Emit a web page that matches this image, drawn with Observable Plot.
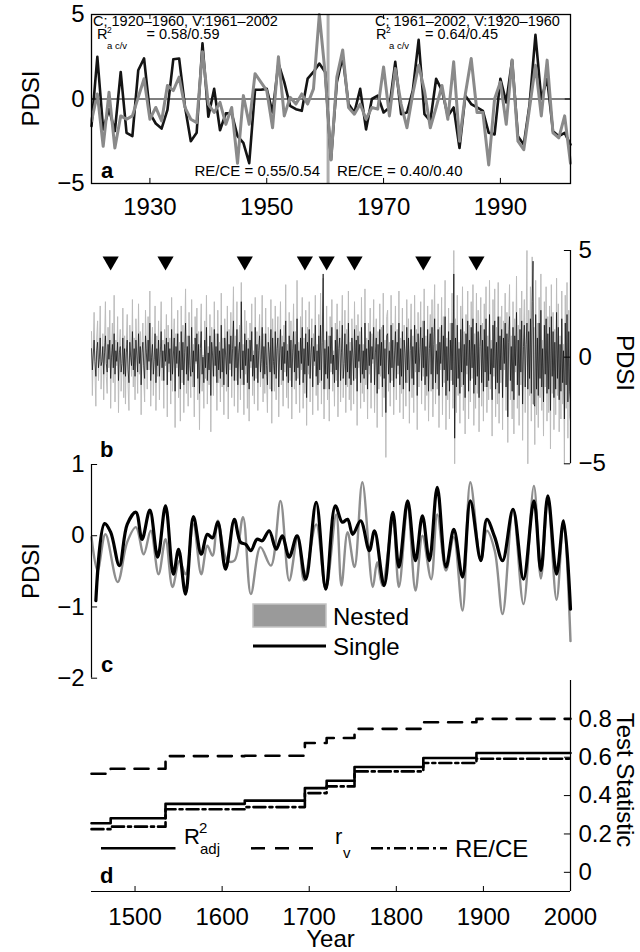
<!DOCTYPE html>
<html><head><meta charset="utf-8">
<script src="https://cdn.jsdelivr.net/npm/d3@7"></script>
<script src="https://cdn.jsdelivr.net/npm/@observablehq/plot@0.6"></script>
<style>
body{margin:0;background:#fff;}
#fig{position:relative;width:640px;height:952px;overflow:hidden;background:#fff;}
</style></head><body><div id="fig"></div>
<script>
const FONT = '"Liberation Sans", Arial, Helvetica, sans-serif';

// ---------- Panel a: 1920-2002 annual ----------
const aStartYear = 1920;
const aInstrumental = [
 -1.6, 2.5, -1.8, -0.6, -1.9, 1.6, -2.0, -2.2, 1.7, 2.4,
 -0.85, -1.45, -1.75, -0.65, 2.35, 2.4, -0.45, -2.5, -2.0, 3.3,
 -1.05, 0.6, -1.85, -0.85, -0.85, -2.2, -2.6, -3.8, 0.55, 0.55,
 0.6, -0.8, 2.1, 1.0, -0.4, -0.6, -0.7, 1.2, 1.6, 2.1,
 1.6, -3.6, 1.0, 2.5, -0.3, -0.8, 0.6, -1.8, 0.0, 0.2,
 -0.8, -0.5, 2.2, -0.9, -0.8, 0.5, 3.5, -0.9, -1.3, 1.2,
 0.5, -1.0, -0.5, -2.9, 0.2, -0.3, -0.5, -0.7, -2.0, -2.1,
 1.2, -0.2, 2.3, -2.2, -2.7, -0.3, 3.8, 0.0, 1.2, -1.9,
 -2.2, -2.0, -2.7];
const aReconstructed = [
 -1.3, 0.3, -2.8, 0.4, -2.9, -1.0, -1.2, -1.0, 0.1, 1.2,
 -1.2, -0.5, -1.3, 0.8, 0.5, 1.3, -0.5, -1.2, -1.4, 2.8,
 -0.3, -0.8, -0.2, -1.5, -0.5, -3.8, 0.2, -1.5, 1.5, 1.0,
 0.5, -1.7, 2.5, -1.0, 0.1, -0.3, 0.3, -0.3, 0.6, 5.0,
 1.5, -3.6, 1.3, 2.9, -0.5, -0.9, -0.3, -1.2, -0.5, -0.6,
 1.9, -1.0, 1.8, -0.3, -1.7, 0.3, 2.0, 0.5, -1.7, -0.5,
 0.8, -1.2, 2.2, -2.5, 0.3, 2.4, -0.8, -0.8, -3.9, 0.0,
 1.0, -1.5, 2.3, -2.5, -3.0, -0.5, 2.0, -1.0, 2.3, -2.0,
 -2.3, -1.0, -3.8];
const splitYear = 1960.5;
const aXTicks = [1930, 1950, 1970, 1990];
const aYTicks = [-5, 0, 5];

// ---------- Panel b: full record, annual 1450-2000 ----------
const bStartYear = 1450;
const bNested = [
 1.2,-1.8,0.4,2.1,-0.6,-2.3,0.9,1.7,-1.1,0.2,
 2.4,-1.5,-0.3,1.1,-2.0,0.7,2.6,-0.9,-1.7,1.4,
 -0.5,2.2,-2.4,0.3,1.6,-1.2,2.9,-2.1,0.8,-0.4,
 1.9,-2.6,0.5,1.3,-1.6,-0.7,2.3,-1.9,1.0,-2.2,
 0.6,2.0,-1.3,-2.5,1.5,0.1,-0.9,2.7,-1.4,0.9,
 -2.0,1.8,0.3,-1.7,2.5,-0.8,1.2,-2.7,0.6,1.6,
 -1.0,-2.1,2.2,0.4,-1.5,1.9,-0.6,3.1,-2.3,0.2,
 1.4,-1.8,-0.2,2.4,-2.5,1.0,-0.9,1.7,-2.0,0.5,
 2.6,-1.1,0.8,-2.4,1.3,-0.4,2.0,-2.8,1.5,-0.7,
 0.9,-2.2,2.8,-1.6,0.3,1.8,-3.3,1.1,-0.5,2.2,
 -1.9,0.7,-3.0,2.4,-1.2,1.5,-2.6,0.4,3.2,-1.7,
 1.0,-2.3,2.1,-0.8,-1.9,2.7,-1.4,0.6,-2.8,1.9,
 -0.3,2.3,-2.0,1.2,-3.4,0.8,2.5,-1.6,0.1,-2.4,
 1.7,-1.0,2.9,-2.2,0.5,-1.3,2.0,-3.5,1.4,0.3,
 -1.8,2.6,-0.9,1.1,-2.5,2.2,-1.2,0.7,-2.1,3.0,
 -1.4,0.9,-2.7,1.8,0.2,-1.6,2.4,-2.9,1.3,-0.6,
 2.1,-1.9,0.8,3.3,-2.3,1.0,-1.1,2.6,-2.6,0.4,
 1.5,-2.0,3.5,-1.3,0.6,-2.7,2.2,-0.8,1.7,-2.4,
 0.9,-3.0,1.6,-0.5,2.5,-1.8,0.3,-2.2,2.8,-1.0,
 1.2,-2.5,0.7,2.0,-1.4,-0.3,2.9,-2.1,1.1,-1.7,
 2.3,-0.9,-2.6,1.4,0.5,-1.5,2.7,-3.1,1.8,-0.4,
 -1.6,2.4,-2.0,0.8,1.9,-2.8,0.2,2.6,-1.3,1.0,
 -2.3,1.5,-0.7,3.4,-1.9,0.6,-2.4,2.1,-1.1,1.7,
 -2.9,0.4,2.5,-1.5,1.2,-2.2,3.6,-1.0,0.7,-2.6,
 1.9,-0.6,2.8,-2.4,0.9,-1.7,2.2,-3.2,1.4,-0.8,
 2.6,-2.1,0.5,1.8,-2.7,1.1,-0.4,2.9,-1.8,0.6,
 -2.5,2.0,-1.2,3.0,-2.2,1.4,3.7,-2.9,0.8,-1.5,
 2.4,-2.0,1.0,-3.0,1.9,-0.7,2.7,-1.6,0.3,-2.3,
 1.6,-1.1,2.5,-2.8,0.9,1.7,-2.1,0.4,2.9,-1.9,
 -0.6,2.2,-2.6,1.3,-1.4,3.1,-2.0,0.7,-2.5,1.8,
 0.2,-2.2,2.6,-1.0,1.5,-3.2,2.0,-0.5,1.2,-2.4,
 2.8,-1.7,0.6,-2.1,3.2,-1.3,0.9,-2.9,1.6,-0.8,
 2.3,-2.4,1.1,-0.3,2.7,-2.6,0.5,1.8,-3.3,1.2,
 -1.5,2.5,-0.9,1.4,-2.8,3.0,-1.9,0.8,-4.7,1.9,
 2.2,-1.6,0.7,-2.3,2.9,-1.1,1.6,-2.7,0.3,2.4,
 -2.0,1.3,-0.8,3.1,-2.6,0.9,-1.7,2.3,-2.9,1.5,
 0.4,-2.3,2.7,-1.2,1.8,-3.1,0.6,2.5,-1.9,1.0,
 -2.6,2.9,-0.7,1.3,-3.4,2.1,-1.4,0.5,2.6,-2.2,
 1.7,-0.9,3.2,-2.5,1.0,-1.8,2.4,-3.0,0.8,2.0,
 -1.6,2.7,-2.8,1.2,3.4,-2.2,0.6,-1.5,2.5,-3.3,
 1.4,-0.6,2.8,-2.7,1.9,-1.2,3.6,-3.4,0.9,-2.0,
 2.3,-2.9,1.6,-1.1,3.0,-2.4,5.0,-5.0,1.8,-2.6,
 2.9,-1.8,0.7,-3.1,2.4,-1.4,3.3,-2.5,1.2,-3.6,
 2.0,-0.8,3.1,-2.9,1.5,-2.1,2.6,-1.0,3.4,-3.2,
 1.1,-2.4,3.0,-1.7,2.2,-3.5,0.9,2.8,-2.3,1.6,
 -3.0,2.5,-1.4,3.3,-2.6,1.0,-2.0,3.6,-1.5,0.8,
 -3.7,2.7,-0.9,3.2,-2.8,1.4,-2.2,3.5,-3.1,1.9,
 -1.2,2.4,-3.4,1.7,-0.6,3.0,-2.5,2.1,-4.0,1.3,
 3.4,-2.0,1.0,-2.9,2.6,-3.6,1.8,-0.7,3.8,-2.4,
 1.5,-3.2,2.3,-1.3,3.1,-3.9,0.9,2.7,-2.6,1.2,
 5.0,-5.0,2.2,-1.8,3.3,-3.0,4.7,-2.2,1.4,-4.1,
 3.6,-2.7,1.6,-3.3,2.8,-1.9,3.9,-2.5,0.8,-3.7,
 2.6,-1.4,3.3,-3.0,1.9,-2.6,2.4,-4.3,3.4,-1.7,
 2.1,-3.4,1.3,-2.7,3.7,-1.8,2.5,-3.5,1.0,-2.9,
 3.1,-2.2,0.6,-5.0,2.9,-2.4,3.5,-3.8,2.2,-2.8,
 -3.0];
const bSingle = [
 0.4,-0.6,0.1,0.8,-0.2,-0.9,0.3,0.7,-0.5,-0.1,
 0.9,-0.4,-0.2,0.5,-0.8,0.2,1.0,-0.3,-0.7,0.6,
 -0.1,0.8,-1.0,0.0,0.6,-0.5,1.1,-0.8,0.3,-0.2,
 0.7,-1.1,0.2,0.5,-0.7,-0.3,0.9,-0.8,0.4,-0.9,
 0.2,0.8,-0.6,-1.2,0.7,0.0,-0.4,1.2,-0.6,0.4,
 -0.9,0.8,0.1,-0.7,1.1,-0.3,0.5,-1.3,0.2,0.7,
 -0.4,-1.0,1.0,0.2,-0.6,0.8,-0.2,1.6,-1.1,0.0,
 0.6,-0.8,-0.1,1.1,-1.2,0.4,-0.4,0.8,-0.9,0.2,
 1.2,-0.5,0.3,-1.1,0.6,-0.2,0.9,-1.3,0.7,-0.3,
 0.4,-1.1,1.3,-0.8,0.1,0.9,-1.6,0.5,-0.3,1.1,
 -0.9,0.3,-1.5,1.2,-0.6,0.7,-1.3,0.2,1.6,-0.8,
 0.5,-1.1,1.0,-0.4,-0.9,1.4,-0.7,0.3,-1.4,0.9,
 -0.2,1.1,-1.0,0.6,-1.7,0.4,1.2,-0.8,0.0,-1.2,
 0.8,-0.5,1.4,-1.1,0.2,-0.6,1.0,-1.8,0.7,0.1,
 -0.9,1.3,-0.4,0.5,-1.2,1.1,-0.6,0.3,-1.0,1.5,
 -0.7,0.4,-1.3,0.9,0.1,-0.8,1.2,-1.4,0.6,-0.3,
 1.0,-0.9,0.4,1.7,-1.1,0.5,-0.5,1.3,-1.3,0.2,
 0.7,-1.0,2.6,-0.6,0.3,-1.3,1.1,-0.4,0.8,-1.2,
 0.4,-1.5,0.8,-0.2,1.2,-0.9,0.1,-1.1,1.4,-0.5,
 0.6,-1.2,0.3,1.0,-0.7,-0.1,1.4,-1.0,0.5,-0.8,
 1.1,-0.4,-1.3,0.7,0.2,-0.7,1.3,-1.6,0.9,-0.2,
 -0.8,1.2,-1.0,0.4,0.9,-1.4,0.1,1.3,-0.6,0.5,
 -1.1,0.7,-0.3,1.7,-0.9,0.3,-1.2,1.0,-0.5,0.8,
 -1.4,0.2,1.2,-0.7,0.6,-1.1,1.8,-0.5,0.3,-1.3,
 0.9,-0.3,1.4,-1.2,0.4,-0.8,1.1,-1.9,0.7,-0.4,
 1.3,-1.0,0.2,0.9,-1.4,0.5,-0.2,1.5,-0.9,0.3,
 -1.3,1.0,-0.6,1.5,-1.1,0.7,3.9,-1.5,0.4,-0.8,
 1.2,-1.0,0.5,-1.5,1.0,-0.3,1.4,-0.8,0.1,-1.2,
 0.8,-0.6,1.3,-1.4,0.4,0.9,-1.1,0.2,1.5,-1.0,
 -0.3,1.1,-1.3,0.6,-0.7,1.6,-1.0,0.3,-1.3,0.9,
 0.1,-1.1,1.3,-0.5,0.8,-1.6,1.0,-0.2,0.6,-1.2,
 1.4,-0.8,0.3,-1.0,1.6,-0.6,0.4,-1.5,0.8,-0.4,
 1.2,-1.2,0.5,-0.1,1.4,-1.3,0.2,0.9,-1.7,0.6,
 -0.8,1.3,-0.4,0.7,-1.4,1.5,-1.0,0.4,-2.6,1.0,
 1.1,-0.8,0.3,-1.2,1.5,-0.5,0.8,-1.4,0.1,1.2,
 -1.0,0.7,-0.4,1.6,-1.3,0.4,-0.9,1.2,-1.5,0.8,
 0.2,-1.2,1.4,-0.6,0.9,-1.6,0.3,1.3,-1.0,0.5,
 -1.3,1.5,-0.3,0.7,-1.8,1.1,-0.7,0.2,1.4,-1.1,
 0.9,-0.5,1.7,-1.3,0.5,-0.9,1.3,-1.6,0.4,1.1,
 -0.8,1.4,-1.5,0.6,1.8,-1.2,0.3,-0.8,1.3,-1.8,
 0.7,-0.3,1.5,-1.4,1.0,-0.6,1.9,-1.8,0.5,-1.1,
 1.2,-1.6,0.8,-0.6,1.6,-1.3,3.9,-3.8,0.9,-1.4,
 1.5,-1.0,0.4,-1.7,1.3,-0.7,1.8,-1.3,0.6,-1.9,
 1.1,-0.4,1.7,-1.6,0.8,-1.1,1.4,-0.5,1.8,-1.7,
 0.6,-1.3,1.6,-0.9,1.2,-1.9,0.5,1.5,-1.2,0.8,
 -1.6,1.3,-0.7,1.8,-1.4,0.5,-1.1,2.0,-0.8,0.4,
 -2.0,1.5,-0.5,1.7,-1.5,0.7,-1.2,1.9,-1.7,1.0,
 -0.6,1.3,-1.9,0.9,-0.3,1.6,-1.4,1.1,-2.8,0.7,
 1.9,-1.1,0.5,-1.6,1.4,-2.0,1.0,-0.4,2.1,-1.3,
 0.8,-1.8,1.3,-0.7,1.7,-2.2,0.5,1.5,-1.4,0.6,
 1.6,-1.5,1.2,-1.0,1.8,-1.7,2.6,4.5,-2.2,-2.3,
 2.0,-1.5,0.9,-1.8,1.6,-1.0,2.2,-1.4,0.4,-2.1,
 1.5,-0.8,1.8,-1.7,1.1,-1.5,1.4,-2.5,1.9,-0.9,
 1.2,-1.9,0.7,-1.5,2.1,-1.0,1.4,-2.0,0.6,-1.6,
 1.8,-1.2,0.3,-2.9,1.6,-1.3,2.0,-2.1,1.2,-1.6,
 -2.0];
const nestStartYears = [1472, 1535, 1626, 1695, 1720, 1752, 1831, 1892];
const bYTicks = [-5, 0, 5];

// ---------- Panel c: smoothed ----------
const cSingleYears = [1455,1465,1472,1482,1491,1501,1508,1517,1526,1535,1544,1550,1558,1567,1576,1583,1589,1595,1604,1614,1621,1627,1633,1640,1646,1654,1662,1669,1677,1686,1696,1708,1719,1730,1738,1744,1750,1759,1769,1775,1786,1796,1803,1813,1822,1830,1838,1847,1857,1866,1876,1885,1897,1904,1913,1922,1934,1946,1958,1966,1974,1984,1992,2000];
const cSingle = [-0.91,0.17,0.05,-0.42,0.16,0.33,-0.05,0.36,-0.30,0.42,-0.54,-0.19,-0.82,0.27,-0.26,0.02,-0.03,0.19,-0.47,0.23,-0.09,-0.12,-0.21,-0.05,-0.07,0.07,-0.19,0.0,-0.30,0.0,-0.61,0.47,-0.75,0.42,0.19,0.23,0.02,0.21,-0.21,0.07,-0.70,0.33,-0.44,0.49,-0.35,0.28,-0.35,0.68,-0.44,0.09,-0.58,0.49,-0.35,0.23,-0.02,-0.35,0.37,-0.61,0.49,-0.49,0.56,-0.54,0.21,-1.03];
const cNestedYears = [1450,1457,1466,1480,1491,1501,1510,1518,1527,1535,1543,1551,1558,1567,1576,1583,1589,1595,1606,1614,1624,1633,1644,1656,1667,1677,1687,1694,1708,1719,1731,1737,1744,1752,1761,1773,1778,1784,1796,1803,1813,1822,1830,1840,1847,1857,1866,1876,1885,1897,1904,1913,1922,1934,1946,1958,1966,1974,1984,1992,2000];
const cNested = [-0.02,-0.49,0.02,-0.65,-0.09,0.12,-0.26,0.07,-0.54,-0.05,-0.72,-0.35,-0.54,0.16,-0.54,-0.14,-0.28,0.21,-0.35,-0.35,0.26,-0.82,-0.16,-0.42,0.49,-0.63,0.0,-0.63,0.16,-0.75,0.30,-0.70,0.05,-0.44,0.75,-0.72,-0.37,-0.70,0.19,-0.72,0.40,-0.77,0.0,-0.61,0.30,-0.49,-0.02,-1.05,0.75,-0.35,0.07,-0.21,-1.10,0.37,-0.96,0.70,-0.60,0.50,-0.90,0.21,-1.48];
const cYTicks = [-2, -1, 0, 1];

// ---------- Panel d: test statistics by nest ----------
const dStepYears = [1450, 1472, 1535, 1626, 1695, 1720, 1752, 1831, 1892];
const dEndYear = 2000;
const dR2adj = [0.256, 0.282, 0.357, 0.374, 0.439, 0.477, 0.549, 0.596, 0.622];
const dRv    = [0.514, 0.540, 0.606, 0.608, 0.674, 0.700, 0.748, 0.782, 0.800];
const dRECE  = [0.225, 0.238, 0.329, 0.340, 0.413, 0.448, 0.526, 0.570, 0.592];
const dXTicks = [1500, 1600, 1700, 1800, 1900, 2000];
const dYTicks = [0, 0.2, 0.4, 0.6, 0.8];

// ---------- helpers ----------
const fig = document.getElementById("fig");
const baseStyle = {fontFamily: FONT, fontSize: "24px", background: "transparent", overflow: "visible", color: "#000"};
function place(svg, top) {
  svg.style.position = "absolute"; svg.style.left = "0px"; svg.style.top = top + "px";
  svg.style.maxWidth = "none";
  fig.appendChild(svg); return svg;
}
function txt(svg, x, y, s, o = {}) {
  const t = d3.select(svg).append("text").attr("x", x).attr("y", y)
    .attr("font-family", FONT).attr("font-size", o.size || 24)
    .attr("fill", o.fill || "#000").attr("text-anchor", o.anchor || "start").text(s);
  if (o.weight) t.attr("font-weight", o.weight);
  if (o.baseline) t.attr("dominant-baseline", o.baseline);
  if (o.rotate) t.attr("transform", `rotate(${o.rotate},${x},${y})`);
  return t;
}
function line(svg, x1, x2, y, o = {}) {
  d3.select(svg).append("line").attr("x1", x1).attr("x2", x2).attr("y1", y).attr("y2", y)
    .attr("stroke", o.stroke || "#000").attr("stroke-width", o.width || 2.5)
    .attr("stroke-dasharray", o.dash || null);
}
const minus = d => d < 0 ? "\u2212" + Math.abs(d) : String(d);
const triDown = {draw(ctx, size) {
  const y = Math.sqrt(size / (3 * Math.sqrt(3)));
  ctx.moveTo(0, 2 * y); ctx.lineTo(-Math.sqrt(3) * y, -y); ctx.lineTo(Math.sqrt(3) * y, -y); ctx.closePath();
}};

// ---------- Panel a ----------
const tA = aInstrumental.map((v, i) => ({year: aStartYear + i, instr: v, recon: aReconstructed[i]}));
const aLastYear = aStartYear + aInstrumental.length - 1;
const svgA = place(Plot.plot({
  width: 640, height: 230, marginTop: 14, marginBottom: 47, marginLeft: 91, marginRight: 70,
  style: baseStyle,
  x: {domain: [aStartYear, aLastYear], ticks: aXTicks, tickSize: 0, tickPadding: 14, tickFormat: d3.format("d"), label: null},
  y: {domain: [-5, 5], ticks: aYTicks, tickSize: 0, tickPadding: 7, tickFormat: minus, label: null},
  marks: [
    Plot.ruleX([splitYear], {stroke: "#adadad", strokeWidth: 3}),
    Plot.ruleY([0], {stroke: "#000", strokeWidth: 1.2}),
    Plot.line(tA, {x: "year", y: "instr", stroke: "#141414", strokeWidth: 2.6}),
    Plot.line(tA, {x: "year", y: "recon", stroke: "#8a8a8a", strokeWidth: 3}),
    Plot.frame({stroke: "#000", strokeWidth: 1.3}),
    Plot.ruleX(aXTicks, {x: d => d, y1: -5, y2: -4.7, stroke: "#000"}),
    Plot.ruleX(aXTicks, {x: d => d, y1: 5, y2: 4.7, stroke: "#000"}),
    Plot.ruleY(aYTicks, {y: d => d, x1: aStartYear, x2: aStartYear + 0.9, stroke: "#000"}),
    Plot.ruleY(aYTicks, {y: d => d, x1: aLastYear, x2: aLastYear - 0.9, stroke: "#000"})
  ]
}), 0);
txt(svgA, 30.6, 98.5, "PDSI", {anchor: "middle", baseline: "central", rotate: -90});
txt(svgA, 93, 25.5, "C; 1920\u20131960, V:1961\u20132002", {size: 14.5});
txt(svgA, 97, 39, "R", {size: 14.5});
txt(svgA, 107, 33, "2", {size: 8.5});
txt(svgA, 107, 48.5, "a c/v", {size: 9.5});
txt(svgA, 146.5, 39, "= 0.58/0.59", {size: 14.5});
txt(svgA, 375, 25.5, "C; 1961\u20132002, V:1920\u20131960", {size: 14.5});
txt(svgA, 376, 39, "R", {size: 14.5});
txt(svgA, 386, 33, "2", {size: 8.5});
txt(svgA, 389, 48.5, "a c/v", {size: 9.5});
txt(svgA, 425, 39, "= 0.64/0.45", {size: 14.5});
txt(svgA, 320, 175.5, "RE/CE = 0.55/0.54", {size: 15, anchor: "end"});
txt(svgA, 337, 175.5, "RE/CE = 0.40/0.40", {size: 15});
txt(svgA, 101, 178, "a", {size: 22, weight: "bold"});

// ---------- Panel b ----------
const nB = Math.min(bNested.length, bSingle.length);
const tB = d3.range(nB).map(i => ({year: bStartYear + i, nested: bNested[i], single: bSingle[i]}));
const svgB = place(Plot.plot({
  width: 640, height: 250, marginTop: 20, marginBottom: 16.7, marginLeft: 91, marginRight: 70,
  style: baseStyle,
  x: {domain: [1450, 2000], axis: null},
  y: {domain: [-5, 5], axis: "right", ticks: bYTicks, tickSize: 0, tickPadding: 8, tickFormat: minus, label: null},
  marks: [
    Plot.line(tB, {x: "year", y: "nested", stroke: "#bcbcbc", strokeWidth: 1}),
    Plot.line(tB, {x: "year", y: "single", stroke: "#0a0a0a", strokeWidth: 0.7}),
    Plot.ruleX([2000], {y1: -5, y2: 5, stroke: "#000", strokeWidth: 1.2}),
    Plot.ruleY(bYTicks, {y: d => d, x1: 2000, x2: 1993, stroke: "#000"}),
    Plot.dot(nestStartYears, {x: d => d, y: 4.5, symbol: triDown, r: 6, fill: "#000", stroke: null})
  ]
}), 230);
txt(svgB, 625.5, 133, "PDSI", {anchor: "middle", baseline: "central", rotate: 90});
txt(svgB, 100, 226.7, "b", {size: 22, weight: "bold"});

// ---------- Panel c ----------
const tCs = cSingleYears.map((y, i) => ({year: y, v: cSingle[i]}));
const tCn = cNestedYears.map((y, i) => ({year: y, v: cNested[i]}));
const svgC = place(Plot.plot({
  width: 640, height: 240, marginTop: 14, marginBottom: 12.3, marginLeft: 91, marginRight: 70,
  style: baseStyle,
  x: {domain: [1450, 2000], axis: null},
  y: {domain: [-2, 1], ticks: cYTicks, tickSize: 0, tickPadding: 7, tickFormat: minus, label: null},
  marks: [
    Plot.line(tCn, {x: "year", y: "v", stroke: "#8e8e8e", strokeWidth: 2.4, curve: "catmull-rom"}),
    Plot.line(tCs, {x: "year", y: "v", stroke: "#000", strokeWidth: 3.2, curve: "catmull-rom"}),
    Plot.ruleX([1450], {y1: -2, y2: 1, stroke: "#000", strokeWidth: 1.2}),
    Plot.ruleY(cYTicks, {y: d => d, x1: 1450, x2: 1457, stroke: "#000"})
  ]
}), 450);
txt(svgC, 30.6, 121, "PDSI", {anchor: "middle", baseline: "central", rotate: -90});
d3.select(svgC).append("rect").attr("x", 253).attr("y", 154).attr("width", 73).attr("height", 23)
  .attr("fill", "#9a9a9a").attr("stroke", "#c4c4c4").attr("stroke-width", 1.5);
txt(svgC, 333, 174.5, "Nested");
line(svgC, 253, 326, 196, {width: 3});
txt(svgC, 333, 205.3, "Single");
txt(svgC, 101, 222, "c", {size: 22, weight: "bold"});

// ---------- Panel d ----------
const stepTable = vals => dStepYears.map((y, i) => ({year: y, v: vals[i]}))
  .concat([{year: dEndYear, v: vals[vals.length - 1]}]);
const svgD = place(Plot.plot({
  width: 640, height: 282, marginTop: 10, marginBottom: 61, marginLeft: 91, marginRight: 70,
  style: baseStyle,
  x: {domain: [1450, 2000], ticks: dXTicks, tickSize: 0, tickPadding: 16, tickFormat: d3.format("d"), label: null},
  y: {domain: [-0.1, 1.0], axis: "right", ticks: dYTicks, tickSize: 0, tickPadding: 8,
      tickFormat: d => d === 0 ? "0" : d3.format(".1f")(d), label: null},
  marks: [
    Plot.line(stepTable(dRv), {x: "year", y: "v", curve: "step-after", stroke: "#000", strokeWidth: 2.6, strokeDasharray: "14,10"}),
    Plot.line(stepTable(dRECE), {x: "year", y: "v", curve: "step-after", stroke: "#000", strokeWidth: 2.6, strokeDasharray: "12,4,3,4"}),
    Plot.line(stepTable(dR2adj), {x: "year", y: "v", curve: "step-after", stroke: "#000", strokeWidth: 2.6}),
    Plot.ruleY([-0.1], {x1: 1450, x2: 2000, stroke: "#000", strokeWidth: 1.2}),
    Plot.ruleX([2000], {y1: -0.1, y2: 1.0, stroke: "#000", strokeWidth: 1.2}),
    Plot.ruleX(dXTicks, {x: d => d, y1: -0.1, y2: -0.074, stroke: "#000"}),
    Plot.ruleY(dYTicks, {y: d => d, x1: 2000, x2: 1993, stroke: "#000"})
  ]
}), 670);
txt(svgD, 625.5, 110, "Test Statistic", {anchor: "middle", baseline: "central", rotate: 90});
txt(svgD, 330.5, 276.5, "Year", {anchor: "middle"});
line(svgD, 101, 175.5, 178.3);
txt(svgD, 184, 173.5, "R", {size: 22});
txt(svgD, 199, 163, "2", {size: 15});
txt(svgD, 200, 184, "adj", {size: 15});
line(svgD, 251, 322, 178.3, {dash: "14,10"});
txt(svgD, 335, 173.5, "r", {size: 22});
txt(svgD, 343, 188, "v", {size: 15});
line(svgD, 371, 447, 178.3, {dash: "12,4,3,4"});
txt(svgD, 455, 186.7, "RE/CE");
txt(svgD, 100, 213, "d", {size: 22, weight: "bold"});
</script></body></html>
